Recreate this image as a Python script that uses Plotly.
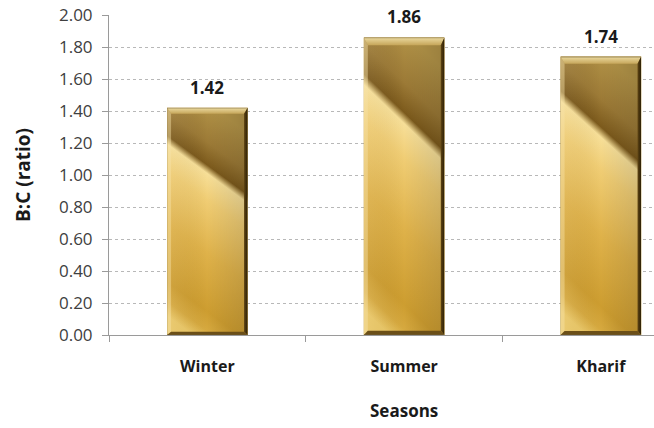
import base64
import plotly.graph_objects as go

# Benefit-cost ratio by growing season
seasons = ["Winter", "Summer", "Kharif"]
ratios = [1.42, 1.86, 1.74]
y_ticks = [0.0, 0.2, 0.4, 0.6, 0.8, 1.0, 1.2, 1.4, 1.6, 1.8, 2.0]

BAR_WIDTH = 0.41
FONT = "'Open Sans', Lato, sans-serif"

# Gold bevelled bar face, stretched over each bar via layout images
bar_svg = """<svg xmlns='http://www.w3.org/2000/svg' width='100' height='100' viewBox='0 0 100 100' preserveAspectRatio='none'>
<defs>
<linearGradient id='face' gradientUnits='userSpaceOnUse' x1='57.1' y1='-0.1' x2='31.1' y2='99.6'>
<stop offset='0' stop-color='#b39448'/>
<stop offset='0.16' stop-color='#9c7a36'/>
<stop offset='0.255' stop-color='#7c5a1c'/>
<stop offset='0.29' stop-color='#f7df98'/>
<stop offset='0.40' stop-color='#f0cd74'/>
<stop offset='0.62' stop-color='#dfb24a'/>
<stop offset='0.86' stop-color='#cd9d30'/>
<stop offset='0.94' stop-color='#d6a93f'/>
<stop offset='1' stop-color='#eac766'/>
</linearGradient>
<linearGradient id='side' x1='0' y1='0' x2='1' y2='0'>
<stop offset='0' stop-color='#ffffff' stop-opacity='0.08'/>
<stop offset='0.5' stop-color='#000000' stop-opacity='0'/>
<stop offset='1' stop-color='#000000' stop-opacity='0.14'/>
</linearGradient>
<linearGradient id='top' x1='0' y1='0' x2='0' y2='1'>
<stop offset='0' stop-color='#ecdba2'/>
<stop offset='1' stop-color='#c6a65a'/>
</linearGradient>
<linearGradient id='right' x1='0' y1='0' x2='1' y2='0'>
<stop offset='0' stop-color='#5e4413'/>
<stop offset='1' stop-color='#2a1d05'/>
</linearGradient>
</defs>
<rect x='0' y='0' width='100' height='100' fill='url(#face)'/>
<rect x='0' y='0' width='100' height='100' fill='url(#side)'/>
<polygon points='0,0 100,0 95.5,2.6 5,2.6' fill='url(#top)'/>
<polygon points='0,0 5,2.6 5,98.6 0,100' fill='#f6e3a8' fill-opacity='0.45'/>
<polygon points='100,0 100,100 95.5,98.6 95.5,2.6' fill='url(#right)'/>
<polygon points='0,100 5,98.6 95.5,98.6 100,100' fill='#6b4f18'/>
<rect x='0' y='0' width='100' height='100' fill='none' stroke='#6d5a30' stroke-width='0.6' stroke-opacity='0.6' vector-effect='non-scaling-stroke'/>
</svg>"""
bar_uri = "data:image/svg+xml;base64," + base64.b64encode(bar_svg.encode()).decode()

fig = go.Figure(
    go.Bar(
        x=seasons,
        y=ratios,
        width=BAR_WIDTH,
        marker=dict(color="#d9b04a", line=dict(width=0)),
        hovertemplate="%{x}: %{y:.2f}<extra></extra>",
    )
)

images = []
annotations = []
for i, v in enumerate(ratios):
    images.append(dict(
        source=bar_uri, xref="x", yref="y",
        x=i - BAR_WIDTH / 2, y=v, sizex=BAR_WIDTH, sizey=v,
        sizing="stretch", xanchor="left", yanchor="top", layer="above",
    ))
    annotations.append(dict(
        x=i, y=v, xref="x", yref="y", text=f"<b>{v:.2f}</b>",
        showarrow=False, yanchor="bottom", yshift=7,
        font=dict(family=FONT, size=17, color="#1a1a1a"),
    ))

# x-axis title, centred under the middle category
annotations.append(dict(
    x=1, y=0, xref="x", yref="paper", text="<b>Seasons</b>",
    showarrow=False, yanchor="middle", yshift=-75,
    font=dict(family=FONT, size=17, color="#1a1a1a"),
))

fig.update_layout(
    width=654, height=428,
    margin=dict(l=109, r=0, t=15, b=93),
    paper_bgcolor="white", plot_bgcolor="white",
    showlegend=False,
    images=images,
    annotations=annotations,
    font=dict(family=FONT),
    xaxis=dict(
        range=[-0.5, 2.27],
        showgrid=False,
        showline=True, linecolor="#9a9a9a", linewidth=1,
        ticks="outside", tickson="boundaries", ticklen=6, tickcolor="#9a9a9a",
        ticklabelstandoff=17,
        tickfont=dict(family=FONT, size=16, color="#1a1a1a", weight="bold"),
        automargin=False,
        fixedrange=True,
    ),
    yaxis=dict(
        range=[0, 2.0],
        tickvals=y_ticks,
        ticktext=[f"{t:.2f}" for t in y_ticks],
        showgrid=True, gridcolor="#b8b8b8", griddash="3px,3px", gridwidth=1,
        zeroline=False,
        showline=True, linecolor="#9a9a9a", linewidth=1,
        ticks="outside", ticklen=6, tickcolor="#9a9a9a",
        ticklabelstandoff=6,
        tickfont=dict(family=FONT, size=17, color="#404040"),
        title=dict(text="<b>B:C (ratio)</b>", standoff=23,
                   font=dict(family=FONT, size=19, color="#1a1a1a")),
        automargin=False,
        fixedrange=True,
    ),
)

fig.write_html("out.html")
